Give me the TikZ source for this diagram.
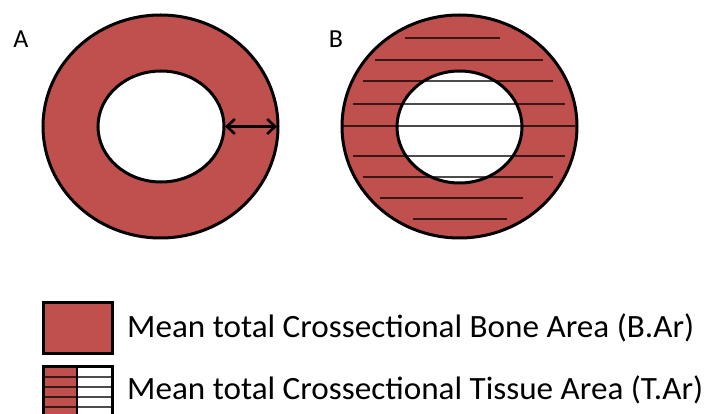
\documentclass[tikz,border=0pt]{standalone}
\usepackage{fontspec}
\setmainfont{Carlito}
\usetikzlibrary{arrows.meta}
\definecolor{bonered}{HTML}{C0504D}
\tikzset{
  ringfill/.style={fill=bonered, draw=black, line width=3pt, even odd rule},
  hatchline/.style={draw=black, draw opacity=0.7, line width=1.5pt},
  legendbox/.style={draw=black, line width=3pt},
  legendtext/.style={anchor=base west, inner sep=0pt, xscale=1.02, font=\fontsize{32.5}{35}\selectfont},
  panellabel/.style={inner sep=0pt, font=\fontsize{26}{28}\selectfont}
}
\begin{document}
\begin{tikzpicture}[x=1pt,y=-1pt]
\clip (0,0) rectangle (713,414);
\fill[white] (0,0) rectangle (713,414);
% Panel A
\node[panellabel] (la) at (21,39) {A};
\path[ringfill] (160.5,126.5) ellipse [x radius=117.5, y radius=111.5]
                (161,126.5) ellipse [x radius=63, y radius=55.5];
\coordinate (ain) at (225,126.5);
\coordinate (aout) at (277,126.5);
\draw[line width=2.6pt, {Straight Barb[length=8pt,width=15pt]}-{Straight Barb[length=8pt,width=15pt]}] (ain) -- (aout);
% Panel B
\node[panellabel] (lb) at (336,39) {B};
\path[fill=bonered, even odd rule] (459.5,126.5) ellipse [x radius=117.5, y radius=111.5]
                (459.5,127) ellipse [x radius=62.5, y radius=56];
\foreach \y/\a/\b in {38/405/500, 60/375/543, 81/363/553, 104/353/565, 126/343/575, 156/353/565, 177/363/553, 198/380/523, 219/413/507}
  \draw[hatchline] (\a,\y) -- (\b,\y);
\draw[line width=3pt] (459.5,126.5) ellipse [x radius=117.5, y radius=111.5];
\draw[line width=3pt] (459.5,127) ellipse [x radius=62.5, y radius=56];
% Legend
\path[legendbox, fill=bonered] (43,303) rectangle (112,354);
\node[legendtext] (t1) at (127,337.5) {Mean total Crossectional Bone Area (B.Ar)};
\fill[bonered] (43,367) rectangle (77,420);
\fill[white] (77,367) rectangle (112,420);
\foreach \y in {377,387,397,407}
  \draw[hatchline] (43,\y) -- (112,\y);
\draw[line width=2pt] (77,367) -- (77,420);
\draw[legendbox] (43,367) rectangle (112,420);
\node[legendtext] (t2) at (127,399.5) {Mean total Crossectional Tissue Area (T.Ar)};
\end{tikzpicture}
\end{document}
